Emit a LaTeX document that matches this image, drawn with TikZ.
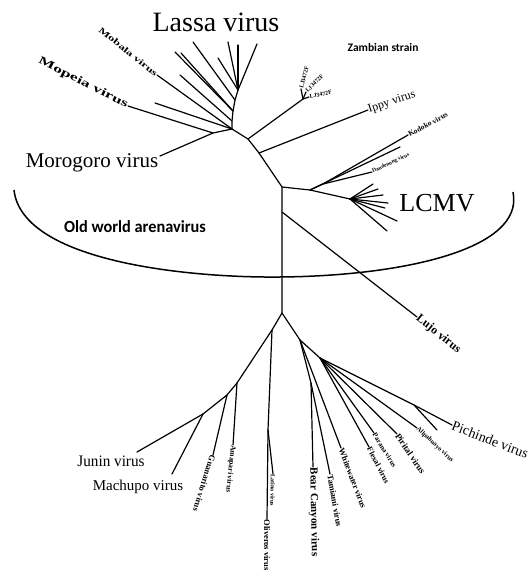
\documentclass[tikz,border=0pt]{standalone}
\usepackage{fontspec}
\setmainfont{Liberation Serif}
\newfontfamily\calfont{Carlito}
\newcommand{\fs}[1]{\fontsize{#1}{#1}\selectfont}
\newcommand{\sx}[2]{\scalebox{#1}[1]{#2}}
\begin{document}
\begin{tikzpicture}[x=1pt,y=-1pt,
  br/.style={line width=1.2pt, line cap=round, line join=round},
  lab/.style={inner sep=0.5pt, anchor=west},
  big/.style={inner sep=0pt}]
\useasboundingbox (0,0) rectangle (531,572);
\fill[white] (0,0) rectangle (531,572);
% ---- tree coordinates ----
\coordinate (J) at (232,129);
\coordinate (M) at (213,133);
\coordinate (moro) at (160,156);
\coordinate (mope) at (128,106);
\coordinate (mob) at (157,75);
\coordinate (s1) at (232,121);
\coordinate (s2) at (233,111);
\coordinate (s3) at (235,100);
\coordinate (s4) at (238,90);
\coordinate (la1) at (155,103);
\coordinate (la2) at (180,75);
\coordinate (la3) at (175,52);
\coordinate (la3b) at (181,53);
\coordinate (la4) at (193,42);
\coordinate (la5) at (218,58);
\coordinate (la6) at (228,42);
\coordinate (la7) at (238,45);
\coordinate (lat) at (257,44);
\coordinate (Z) at (248,139);
\coordinate (zt) at (303,99);
\coordinate (z1) at (301,89);
\coordinate (z2) at (306,92);
\coordinate (z3) at (309,97);
\coordinate (I) at (259,153);
\coordinate (ippy) at (368,110);
\coordinate (C) at (282,187);
\coordinate (Ln) at (310,190);
\coordinate (kod) at (408,135);
\coordinate (kod2) at (400,147);
\coordinate (dn) at (323,184);
\coordinate (dan) at (372,172);
\coordinate (F) at (350,199);
\coordinate (f1) at (373,184);
\coordinate (f2) at (378,189);
\coordinate (f3) at (383,195);
\coordinate (f4) at (388,203);
\coordinate (f5) at (385,208);
\coordinate (f6) at (397,221);
\coordinate (f7) at (387,231);
\coordinate (Lj) at (282,212);
\coordinate (lujo) at (417,317);
\coordinate (S) at (282,313);
\coordinate (L1) at (272,330);
\coordinate (A) at (237,383);
\coordinate (ama) at (233,445);
\coordinate (G) at (227,395);
\coordinate (gua) at (213,455);
\coordinate (JM) at (203,414);
\coordinate (jun) at (137,452);
\coordinate (mac) at (172,474);
\coordinate (Ol) at (268,430);
\coordinate (oli) at (267,519);
\coordinate (lat2) at (273,474);
\coordinate (R1) at (300,340);
\coordinate (BC) at (311,383);
\coordinate (bea) at (313,467);
\coordinate (tam) at (330,474);
\coordinate (whi) at (341,448);
\coordinate (R2) at (320,358);
\coordinate (fle) at (369,447);
\coordinate (par) at (374,433);
\coordinate (pir) at (397,434);
\coordinate (all) at (417,428);
\coordinate (P) at (414,405);
\coordinate (pu) at (437,430);
\coordinate (pic) at (452,425);
% ---- branches ----
\draw[br] (moro) -- (M) -- (J);
\draw[br] (mope) -- (M);
\draw[br] (mob) -- (J);
\draw[br] (J) -- (s1) -- (s2) -- (s3) -- (s4) -- (lat);
\draw[br] (la1) -- (J);
\draw[br] (la2) -- (s1);
\draw[br] (la3) -- (s2);
\draw[br] (la3b) -- (s2);
\draw[br] (la4) -- (s3);
\draw[br] (la5) -- (s4);
\draw[br] (la6) -- (s4);
\draw[br] (la7) -- (s4);
\draw[br] (J) -- (Z) -- (I) -- (C) -- (Lj) -- (S);
\draw[br] (Z) -- (zt);
\foreach \t in {z1,z2,z3} \draw[br] (zt) -- (\t);
\draw[br] (I) -- (ippy);
\draw[br] (C) -- (Ln) -- (dn) -- (kod);
\draw[br] (Ln) -- (kod2);
\draw[br] (dn) -- (dan);
\draw[br] (Ln) -- (F);
\foreach \t in {f1,f2,f3,f4,f5,f6,f7} \draw[br] (F) -- (\t);
\draw[br] (Lj) -- (lujo);
\draw[br] (S) -- (L1) -- (A) -- (G) -- (JM) -- (jun);
\draw[br] (JM) -- (mac);
\draw[br] (G) -- (gua);
\draw[br] (A) -- (ama);
\draw[br] (L1) -- (Ol) -- (oli);
\draw[br] (Ol) -- (lat2);
\draw[br] (S) -- (R1) -- (BC) -- (bea);
\draw[br] (BC) -- (tam);
\draw[br] (R1) -- (whi);
\draw[br] (R1) -- (R2) -- (P) -- (pic);
\draw[br] (P) -- (pu);
\foreach \t in {fle,par,pir,all} \draw[br] (R2) -- (\t);
% ---- old world arc ----
\draw[line width=1.5pt] (14,190) .. controls (22,262) and (190,278) .. (280,277)
   .. controls (400,276) and (525,250) .. (513,192);
% ---- labels ----
\node[big] (tLassa) at (216,22) {\fs{28}Lassa virus};
\node[big] (tZam) at (383,48) {\calfont\bfseries\fs{11.5}Zambian strain};
\node[lab, rotate=75] (tz1) at (z1) {\bfseries\fs{6}LJ3472F};
\node[lab, rotate=45] (tz2) at (z2) {\bfseries\fs{6}LJ3472F};
\node[lab, rotate=12] (tz3) at (z3) {\bfseries\fs{6}LJ3472F};
\node[big] (tMoro) at (92,163) {\fs{21}Morogoro virus};
\node[big] (tOld) at (135,227) {\calfont\bfseries\fs{17}\sx{0.96}{Old world arenavirus}};
\node[big] (tLCMV) at (437,203) {\fs{26}LCMV};
\node[lab, rotate=-39, anchor=east] (tMob) at (mob) {\bfseries\fs{8.5}\sx{1.5}{Mobala virus}};
\node[lab, rotate=-27, anchor=east] (tMop) at (mope) {\bfseries\fs{11}\sx{1.6}{Mopeia virus}};
\node[lab, rotate=18] (tIppy) at (ippy) {\fs{12}Ippy virus};
\node[lab, rotate=28] (tKod) at (kod) {\bfseries\fs{7.5}Kodoko virus};
\node[lab, rotate=25] (tDan) at (dan) {\bfseries\fs{5.5}Dandenong virus};
\node[lab, rotate=-39] (tLujo) at (lujo) {\bfseries\fs{12}Lujo virus};
\node[lab, rotate=-21] (tPic) at (pic) {\fs{14}Pichinde virus};
\node[lab, rotate=-43] (tAll) at (all) {\bfseries\fs{6.5}Allpahuayo virus};
\node[lab, rotate=-56] (tPir) at (pir) {\bfseries\fs{9}Pirital virus};
\node[lab, rotate=-58] (tPar) at (par) {\bfseries\fs{7}Parana virus};
\node[lab, rotate=-63] (tFle) at (fle) {\bfseries\fs{8}Flexal virus};
\node[lab, rotate=-69] (tWhi) at (whi) {\bfseries\fs{8.5}Whitewater virus};
\node[lab, rotate=-80] (tTam) at (tam) {\bfseries\fs{8.5}Tamiami virus};
\node[lab, rotate=-89] (tBea) at (bea) {\bfseries\fs{11}Bear Canyon virus};
\node[lab, rotate=-91] (tLat) at (lat2) {\bfseries\fs{6}Latino virus};
\node[lab, rotate=-90] (tOli) at (oli) {\bfseries\fs{8.5}Oliveros virus};
\node[lab, rotate=-96] (tAma) at (ama) {\bfseries\fs{7.5}Amapari virus};
\node[lab, rotate=-107] (tGua) at (gua) {\bfseries\fs{8.5}Guanarito virus};
\node[big] (tJun) at (111,461) {\fs{16}\sx{0.95}{Junin virus}};
\node[big] (tMac) at (138,487) {\fs{15}Machupo virus};
\end{tikzpicture}
\end{document}
